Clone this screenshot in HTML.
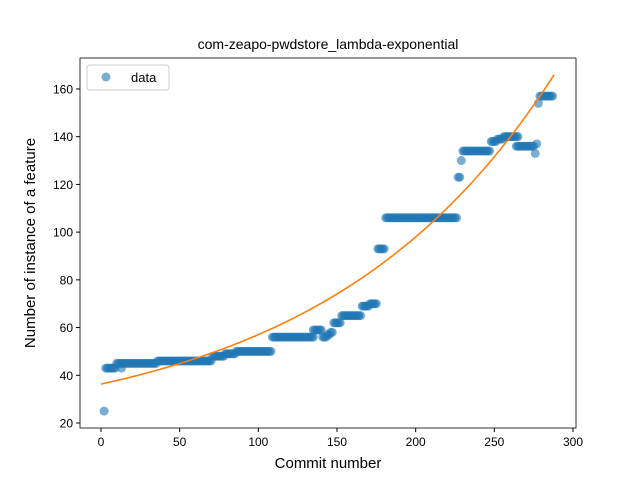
<!DOCTYPE html>
<html><head><meta charset="utf-8"><style>body{margin:0;background:#fff}svg{font-family:"Liberation Sans","DejaVu Sans",sans-serif}</style></head>
<body>
<svg id="chart" width="640" height="480">
<rect width="640" height="480" fill="#fff"/>
<text x="328" y="49" text-anchor="middle" font-size="14">com-zeapo-pwdstore_lambda-exponential</text>
<g id="pts"></g>
<path id="fit" fill="none" stroke="#ff7f0e" stroke-width="1.6"/>
<rect x="80" y="58" width="496" height="370" fill="none" stroke="#000" stroke-width="0.8"/>
<g id="axes"></g>
<text x="328" y="468" text-anchor="middle" font-size="15">Commit number</text>
<text transform="translate(35,243) rotate(-90)" text-anchor="middle" font-size="15">Number of instance of a feature</text>
<g>
<rect x="87" y="65" width="82" height="25" rx="3" fill="#fff" stroke="#ccc"/>
<circle cx="106" cy="77" r="4.5" fill="#1f77b4" fill-opacity="0.6"/>
<text x="131" y="82" font-size="13">data</text>
</g>
</svg>
<script>
const segStart=[2,3,10,13,36,71,79,86,109,135,141,144,146,148,153,166,171,176,181,227,229,230,248,252,256,264,276,277,278,279];
const segEnd  =[2,9,35,13,70,78,85,108,135,140,143,145,147,152,165,170,175,180,226,228,229,247,251,255,265,275,276,277,278,287];
const segVal  =[25,43,45,43,46,48,49,50,56,59,56,57,58,62,65,69,70,93,106,123,130,134,138,139,140,136,133,137,154,157];
const fitA=21.3, fitB=0.0068, fitC=15, fitMax=288;
const xTicks=[0,50,100,150,200,250,300];
const yTicks=[20,40,60,80,100,120,140,160];
const X=v=>101+v*1.5733, Y=v=>423-(v-20)*2.386;
const NS="http://www.w3.org/2000/svg";
const pts=document.getElementById('pts');
for(let s=0;s<segStart.length;s++){for(let x=segStart[s];x<=segEnd[s];x++){
 const c=document.createElementNS(NS,'circle');
 c.setAttribute('cx',X(x));c.setAttribute('cy',Y(segVal[s]));c.setAttribute('r',4.5);
 c.setAttribute('fill','#1f77b4');c.setAttribute('fill-opacity','0.6');
 
 
 pts.appendChild(c);}}
let d='';for(let x=0;x<=fitMax;x+=2){d+=(x?'L':'M')+X(x).toFixed(1)+','+Y(fitA*Math.exp(fitB*x)+fitC).toFixed(1);}
document.getElementById('fit').setAttribute('d',d);
const ax=document.getElementById('axes');
xTicks.forEach(t=>{const l=document.createElementNS(NS,'line');l.setAttribute('x1',X(t));l.setAttribute('x2',X(t));l.setAttribute('y1',428);l.setAttribute('y2',432);l.setAttribute('stroke','#000');
 
 
 ax.appendChild(l);
 const tx=document.createElementNS(NS,'text');tx.setAttribute('x',X(t));tx.setAttribute('y',446);tx.setAttribute('text-anchor','middle');tx.setAttribute('font-size','12');tx.textContent=t;
 
 
 ax.appendChild(tx);});
yTicks.forEach(t=>{const l=document.createElementNS(NS,'line');l.setAttribute('x1',76);l.setAttribute('x2',80);l.setAttribute('y1',Y(t));l.setAttribute('y2',Y(t));l.setAttribute('stroke','#000');
 
 
 ax.appendChild(l);
 const tx=document.createElementNS(NS,'text');tx.setAttribute('x',73);tx.setAttribute('y',Y(t)+4.5);tx.setAttribute('text-anchor','end');tx.setAttribute('font-size','12');tx.textContent=t;
 
 
 ax.appendChild(tx);});
</script>
</body></html>
